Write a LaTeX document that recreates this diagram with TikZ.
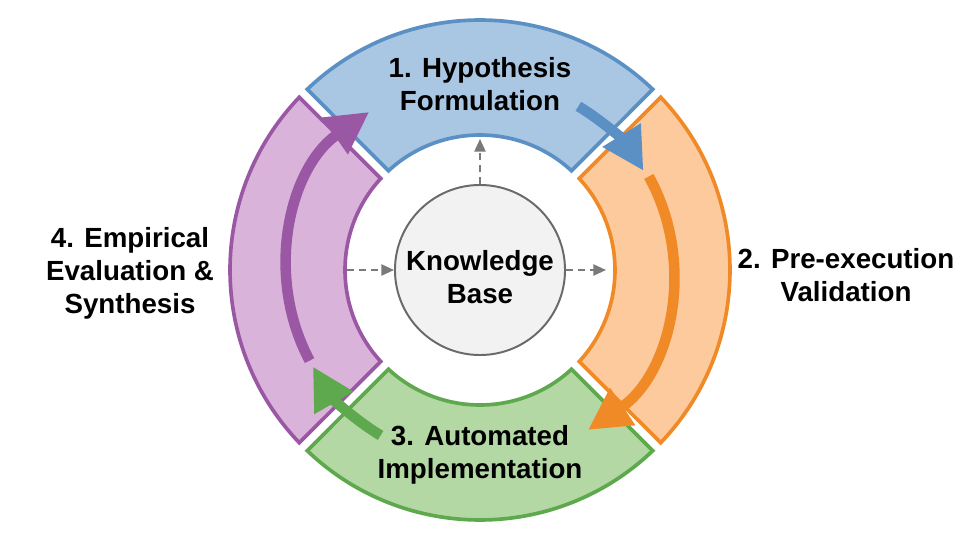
\documentclass[tikz,border=0pt]{standalone}
\usepackage{fontspec}
\setmainfont{Liberation Sans}
\usetikzlibrary{arrows.meta}

\definecolor{hypfill}{HTML}{A9C6E2}
\definecolor{hypline}{HTML}{5B90C5}
\definecolor{valfill}{HTML}{FDCA9D}
\definecolor{valline}{HTML}{F08A26}
\definecolor{impfill}{HTML}{B4D8A4}
\definecolor{impline}{HTML}{5EA84D}
\definecolor{evalfill}{HTML}{DAB3DA}
\definecolor{evalline}{HTML}{9A58A4}
\definecolor{kbfill}{HTML}{F2F2F2}
\definecolor{kbline}{HTML}{6A6A6A}
\definecolor{feedgray}{HTML}{7A7A7A}

\begin{document}
\begin{tikzpicture}[
    x=0.025cm, y=0.025cm,
    segment/.style={line width=2.6pt, line join=miter},
    hypseg/.style={segment, draw=hypline, fill=hypfill},
    valseg/.style={segment, draw=valline, fill=valfill},
    impseg/.style={segment, draw=impline, fill=impfill},
    evalseg/.style={segment, draw=evalline, fill=evalfill},
    steplabel/.style={font=\bfseries\fontsize{19.7}{23.5}\selectfont, align=center, inner sep=0pt},
    cyclearrow/.style={line width=7.5pt, -{Triangle[length=1.05cm, width=1.05cm]}},
    kbase/.style={circle, draw=kbline, fill=kbfill, line width=1.4pt, minimum size=4.25cm, inner sep=0pt},
    feed/.style={draw=feedgray, line width=1.2pt, dash pattern=on 5pt off 3.5pt, -{Triangle[length=9pt, width=8pt]}}
]
\useasboundingbox (-480,-270) rectangle (480,270);

\foreach \ang/\sty in {90/hypseg, 0/valseg, -90/impseg, 180/evalseg}
  \path[\sty] (\ang-43.7:250) arc[start angle=\ang-43.7, end angle=\ang+43.7, radius=250]
    -- (\ang+42.7:135) arc[start angle=\ang+42.7, end angle=\ang-42.7, radius=135] -- cycle;

\coordinate (hypA) at (59:191);
\coordinate (valA) at (29:193);
\coordinate (impA) at (-121:193);
\coordinate (evalA) at (208:193);
\draw[cyclearrow, hypline] (hypA) arc[start angle=59, end angle=31.5, radius=193];
\draw[cyclearrow, valline] (valA) arc[start angle=29, end angle=-56, radius=193];
\draw[cyclearrow, impline] (impA) arc[start angle=-121, end angle=-150, radius=193];
\draw[cyclearrow, evalline] (evalA) arc[start angle=208, end angle=125, radius=193];

\node[kbase] (kb) at (0,0) {};
\node[steplabel] (kbtext) at (0,-7) {Knowledge\\Base};

\coordinate (hypin) at (0,131);
\coordinate (valin) at (126,0);
\coordinate (evalin) at (-133,0);
\draw[feed] (kb) -- (hypin);
\draw[feed] (kb) -- (valin);
\draw[feed] (evalin) -- (kb);

\node[steplabel] (hyp) at (0,186) {1. Hypothesis\\Formulation};
\node[steplabel] (val) at (366,-5) {2. Pre-execution\\Validation};
\node[steplabel] (imp) at (0,-185) {3. Automated\\Implementation};
\node[steplabel] (eval) at (-350,-3) {4. Empirical\\Evaluation \&\\Synthesis};
\end{tikzpicture}
\end{document}
